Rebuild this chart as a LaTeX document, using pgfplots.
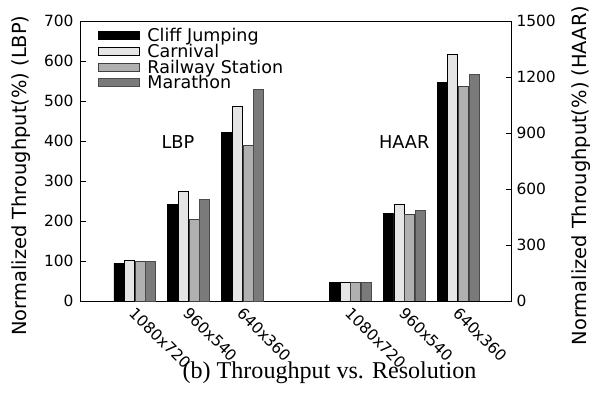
\documentclass[border=0pt]{standalone}
\usepackage{fontspec}
\setmainfont{DejaVu Sans}
\newfontfamily\capfont{Liberation Serif}
\usepackage{pgfplots}
\pgfplotsset{compat=1.18}
\definecolor{cCliff}{HTML}{000000}
\definecolor{cCarn}{HTML}{E5E5E5}
\definecolor{cRail}{HTML}{B0B0B0}
\definecolor{cMara}{HTML}{7A7A7A}
\begin{document}
\begin{tikzpicture}
\pgfplotsset{
  common/.style={
    scale only axis, width=431bp, height=280bp,
    xmin=-1, xmax=7, ymin=0,
    ybar=0.6bp, bar width=10bp,
    tick align=inside, major tick length=5.5bp,
    /pgf/number format/assume math mode=true,
    /pgf/number format/1000 sep={},
    axis line style={line width=1bp},
    every tick/.style={line width=0.8bp, black},
    tick label style={font=\fontsize{15.5}{18}\selectfont},
  },
  legimg/.style={legend image code/.code={\draw[##1, bar shift=0pt] (0bp,-2.5bp) rectangle (41bp,5.5bp);}},
}
\begin{axis}[common, name=ax,
  ymax=700, ytick={0,100,...,700}, ytick pos=left,
  yticklabel style={xshift=-4bp},
  xtick={0,1,2,4,5,6},
  xticklabels={1080x720,960x540,640x360,1080x720,960x540,640x360},
  x tick style={draw=none},
  xticklabel style={rotate=-45, anchor=north west, inner sep=1bp, xshift=4bp, yshift=-1bp, font=\fontsize{15.5}{18}\selectfont},
  ylabel={Normalized Throughput(\%) (LBP)},
  every axis y label/.style={at={(axis description cs:-0.139,0.448)}, rotate=90, anchor=center, font=\fontsize{19.5}{22}\selectfont},
  legend style={at={(rel axis cs:0.0394,0.972)}, anchor=north west, draw=none, fill=none,
    font=\fontsize{17.6}{18}\selectfont, inner sep=0pt, row sep=0pt, column sep=5.5bp,
    nodes={text height=12.5bp, text depth=3.3bp, inner ysep=0pt}},
  legend cell align=left,
]
\addplot[legimg, fill=cCliff, draw=black, line width=0.8bp] coordinates {(0,95) (1,242) (2,421)};
\addplot[legimg, fill=cCarn, draw=black, line width=0.8bp] coordinates {(0,101) (1,274) (2,487)};
\addplot[legimg, fill=cRail, draw=black!75, line width=0.8bp] coordinates {(0,98) (1,205) (2,390)};
\addplot[legimg, fill=cMara, draw=black!70, line width=0.8bp] coordinates {(0,99) (1,255) (2,528)};
\legend{Cliff Jumping, Carnival, Railway Station, Marathon}
\node[font=\fontsize{17.8}{20}\selectfont] at (axis cs:0.8,397) {LBP};
\node[font=\fontsize{17.8}{20}\selectfont] at (axis cs:5.0,397) {HAAR};
\end{axis}
\begin{axis}[common,
  ymax=1500, ytick={0,300,...,1500},
  axis y line*=right, axis x line=none,
  yticklabel style={xshift=1bp},
  ylabel={Normalized Throughput(\%) (HAAR)},
  every axis y label/.style={at={(axis description cs:1.16,0.448)}, rotate=90, anchor=center, font=\fontsize{19.5}{22}\selectfont},
]
\addplot[fill=cCliff, draw=black, line width=0.8bp] coordinates {(4,100) (5,471) (6,1173)};
\addplot[fill=cCarn, draw=black, line width=0.8bp] coordinates {(4,102) (5,518) (6,1323)};
\addplot[fill=cRail, draw=black!75, line width=0.8bp] coordinates {(4,100) (5,466) (6,1150)};
\addplot[fill=cMara, draw=black!70, line width=0.8bp] coordinates {(4,100) (5,486) (6,1212)};
\end{axis}
\node[font=\capfont\fontsize{24.2}{28}\selectfont, anchor=base, xshift=33bp, yshift=-77bp] at (ax.south) {(b) Throughput vs. Resolution};
\path (ax.south west) ++(-81bp,-104bp) rectangle ++(594bp,405bp);
\end{tikzpicture}
\end{document}
